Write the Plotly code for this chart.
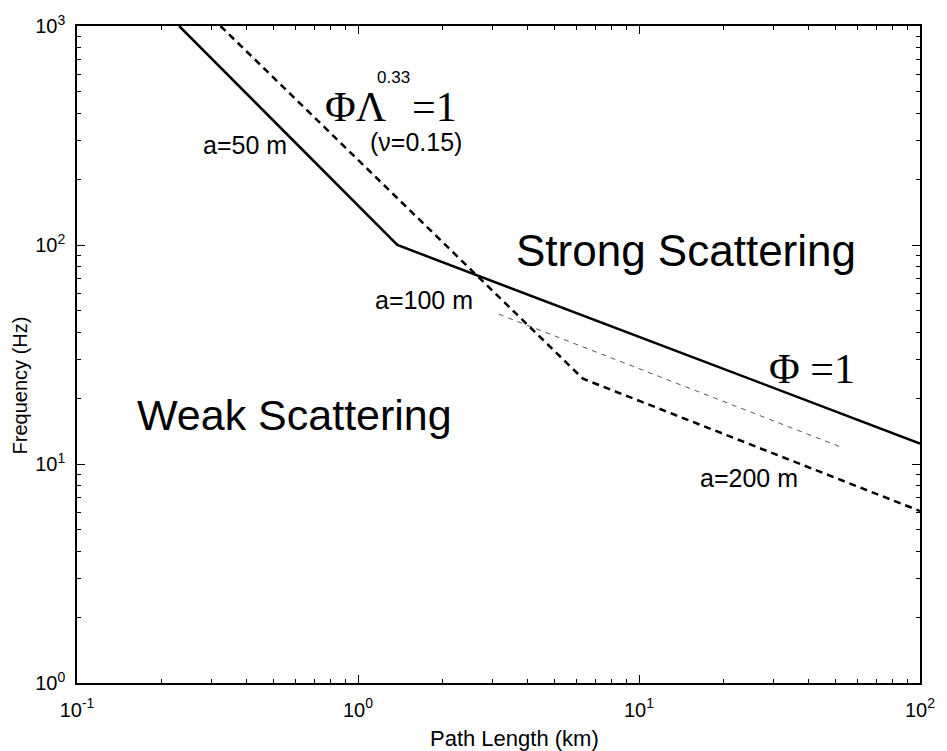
import plotly.graph_objects as go

# Scattering-regime boundaries: frequency vs. path length (log-log)
path_a50 = [0.231, 1.38, 100.0]          # km, solid curve (a=50 m, Phi=1)
freq_a50 = [1000.0, 100.0, 12.4]         # Hz

path_a200 = [0.324, 6.32, 100.0]         # km, heavy dashed curve (a=200 m)
freq_a200 = [1000.0, 24.5, 6.1]          # Hz

path_a100_steep = [0.665, 3.17]          # km, faint steep branch of a=100 m
freq_a100_steep = [328.0, 48.3]
path_a100 = [3.17, 53.2]                 # km, thin dashed branch of a=100 m
freq_a100 = [48.3, 11.85]

x_major = [0.1, 1, 10, 100]
x_major_text = ["10<sup>-1</sup>", "10<sup>0</sup>", "10<sup>1</sup>", "10<sup>2</sup>"]
y_major = [1, 10, 100, 1000]
y_major_text = ["10<sup>0</sup>", "10<sup>1</sup>", "10<sup>2</sup>", "10<sup>3</sup>"]
minor_vals = [m * 10.0 ** e for e in range(-1, 3) for m in range(2, 10)]

SANS = "Liberation Sans, Arial, Helvetica, sans-serif"
SERIF = "Liberation Serif, Times New Roman, serif"

ML, MR, MT, MB = 77, 21, 26, 68
W, H = 947, 751
plot_w = W - ML - MR
plot_h = H - MT - MB

fig = go.Figure()

fig.add_trace(go.Scatter(
    x=path_a100_steep, y=freq_a100_steep, mode="lines",
    line=dict(color="rgba(0,0,0,0.05)", width=0.8, dash="2px,12px"),
    showlegend=False, hoverinfo="skip"))
fig.add_trace(go.Scatter(
    x=path_a100, y=freq_a100, mode="lines",
    line=dict(color="#555555", width=1, dash="5px,5px"),
    showlegend=False))
fig.add_trace(go.Scatter(
    x=path_a200, y=freq_a200, mode="lines",
    line=dict(color="black", width=2.5, dash="7px,5px"),
    showlegend=False))
fig.add_trace(go.Scatter(
    x=path_a50, y=freq_a50, mode="lines",
    line=dict(color="black", width=2.5),
    showlegend=False))

axis_common = dict(
    type="log", showgrid=False, zeroline=False,
    showline=True, linecolor="black", linewidth=1.5, mirror="ticks",
    ticks="inside", ticklen=8, tickwidth=1, tickcolor="black",
    minor=dict(tickvals=minor_vals, ticks="inside", ticklen=4,
               tickwidth=1, tickcolor="black", showgrid=False),
    tickfont=dict(family=SANS, size=20, color="black"),
)

fig.update_xaxes(range=[-1, 2], tickvals=x_major, ticktext=x_major_text,
                 ticklabelstandoff=8, **axis_common)
fig.update_yaxes(range=[0, 3], tickvals=y_major, ticktext=y_major_text,
                 ticklabelstandoff=6, **axis_common)


def label(text, x, y, size, family=SANS, xanchor="left", yanchor="middle"):
    fig.add_annotation(text=text, x=x, y=y, xref="x", yref="y",
                       xanchor=xanchor, yanchor=yanchor, showarrow=False,
                       font=dict(family=family, size=size, color="black"))


# region names
label("Strong Scattering", 0.555, 1.977, 44)
label("Weak Scattering", -0.795, 1.224, 43)

# curve labels
label("a=50 m", -0.247, 2.457, 25, xanchor="right")
label("a=100 m", 0.053, 1.749, 25)
label("a=200 m", 1.2085, 0.936, 25)
label("(\u03bd=0.15)", 0.035, 2.470, 25)

# threshold formulas
label("\u03a6\u039b", -0.1237, 2.630, 42, family=SERIF)
label("0.33", 0.060, 2.767, 17)
label("=1", 0.1837, 2.630, 42, family=SERIF)
label("\u03a6 =1", 1.4558, 1.434, 42, family=SERIF)

# axis titles
fig.add_annotation(text="Path Length (km)", x=(518 - ML) / plot_w, y=(H - MB - 738) / plot_h,
                   xref="paper", yref="paper", showarrow=False,
                   xanchor="center", yanchor="middle",
                   font=dict(family=SANS, size=22, color="black"))
fig.add_annotation(text="Frequency (Hz)", x=(20 - ML) / plot_w, y=(H - MB - 385) / plot_h,
                   xref="paper", yref="paper", showarrow=False, textangle=-90,
                   xanchor="center", yanchor="middle",
                   font=dict(family=SANS, size=20, color="black"))

fig.update_layout(
    width=W, height=H,
    margin=dict(l=ML, r=MR, t=MT, b=MB),
    paper_bgcolor="white", plot_bgcolor="white",
    showlegend=False,
)

fig.write_html("out.html")
